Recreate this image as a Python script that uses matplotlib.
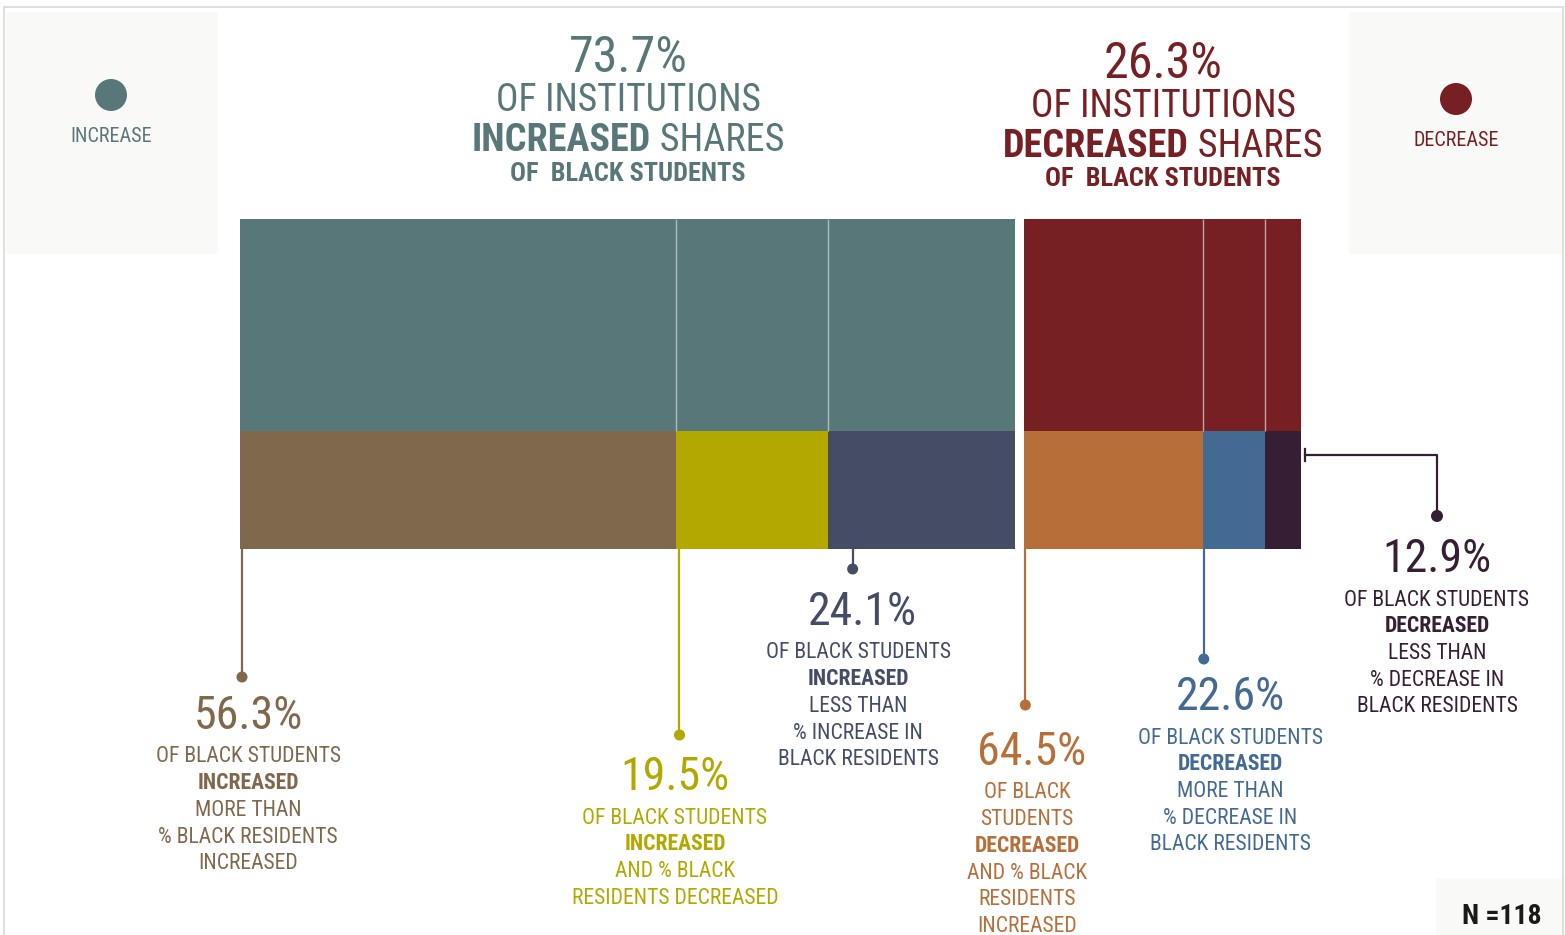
import matplotlib
matplotlib.use("Agg")
import matplotlib.pyplot as plt
from matplotlib import font_manager
from matplotlib.patches import Rectangle, Circle

# ---- data -------------------------------------------------------------
group_names = ["INCREASE", "DECREASE"]
group_shares = [73.7, 26.3]          # % of institutions
group_colors = ["#587779", "#772024"]

inc_shares = [56.3, 19.5, 24.1]      # % of black students within increase group
inc_colors = ["#80684c", "#b2a800", "#444c66"]
dec_shares = [64.5, 22.6, 12.9]      # % of black students within decrease group
dec_colors = ["#b76f3a", "#436a93", "#361e35"]

n_total = 118

# ---- fonts ------------------------------------------------------------
available = {f.name for f in font_manager.fontManager.ttflist}
FONT = next((f for f in ["Roboto Condensed", "Liberation Sans Narrow",
                         "Arial Narrow", "Liberation Sans"] if f in available),
            "DejaVu Sans")
plt.rcParams["font.family"] = [FONT, "DejaVu Sans"]

W, H = 1565, 935
fig = plt.figure(figsize=(W / 100, H / 100), dpi=100)
fig.patch.set_facecolor("white")

# overlay in pixel units (y downwards)
ov = fig.add_axes([0, 0, 1, 1])
ov.set_xlim(0, W)
ov.set_ylim(H, 0)
ov.axis("off")

PANEL = "#f9f9f7"
ov.add_patch(Rectangle((4, 7), W - 6, H - 6, fill=False, ec="#d9d9d6", lw=1.2))
ov.add_patch(Rectangle((6, 12), 212, 242, color=PANEL, lw=0))
ov.add_patch(Rectangle((1349, 12), 213, 242, color=PANEL, lw=0))
ov.add_patch(Rectangle((1436, 878), 126, 57, color=PANEL, lw=0))

# ---- bars ---------------------------------------------------------------
gap = 0.86
bx0, bx1, by_top, by_bot = 240, 1301, 219, 549
axb = fig.add_axes([bx0 / W, (H - by_bot) / H, (bx1 - bx0) / W, (by_bot - by_top) / H])
axb.set_xlim(0, 100 + gap)
axb.set_ylim(0, 330)
axb.axis("off")
axb.set_zorder(2)

BOT_H, TOP_H = 118, 212
starts = [0, group_shares[0] + gap]
seg_edges = []  # (left, width) for each lower segment
for gi, (g, gc, sub, cols) in enumerate(zip(group_shares, group_colors,
                                            [inc_shares, dec_shares],
                                            [inc_colors, dec_colors])):
    s0 = starts[gi]
    axb.barh(BOT_H + TOP_H / 2, g, height=TOP_H, left=s0, color=gc, lw=0)
    left = s0
    for k, (v, c) in enumerate(zip(sub, cols)):
        w = g * v / 100
        axb.barh(BOT_H / 2, w, height=BOT_H, left=left, color=c, lw=0)
        seg_edges.append((left, w))
        if k > 0:
            sep = "#a9bdbd" if gi == 0 else "#c7a3a3"
            axb.vlines(left, BOT_H, BOT_H + TOP_H, color=sep, lw=1.0)
        left += w


def to_px(xd):
    """bar-data x -> overlay pixel x"""
    disp = axb.transData.transform((xd, 0))
    return ov.transData.inverted().transform(disp)[0]


# ---- rich text helpers -----------------------------------------------
fig.canvas.draw()
renderer = fig.canvas.get_renderer()


def rich_line(cx, y, parts, size, color):
    texts = []
    for s, wgt in parts:
        t = ov.text(0, y, s, fontsize=size, fontweight=wgt, color=color,
                    ha="left", va="baseline")
        texts.append(t)
    widths = [t.get_window_extent(renderer).width for t in texts]
    x = cx - sum(widths) / 2
    for t, w in zip(texts, widths):
        t.set_x(x)
        x += w


def label_block(cx, num, num_base, lines, color, cx_num=None):
    ov.text(cx if cx_num is None else cx_num, num_base, f"{num}%", fontsize=33,
            color=color, ha="center", va="baseline")
    base = num_base + 33.5
    for s, bold in lines:
        ov.text(cx, base, s, fontsize=15.6, color=color, ha="center", va="baseline",
                fontweight="bold" if bold else "normal")
        base += 26.7


# ---- titles ---------------------------------------------------------
tc = group_colors[0]
ov.text(628, 72, f"{group_shares[0]}%", fontsize=36, color=tc, ha="center", va="baseline")
ov.text(628, 111, "OF INSTITUTIONS", fontsize=27, color=tc, ha="center", va="baseline")
rich_line(628, 151, [("INCREASED", "bold"), (" SHARES", "normal")], 27.5, tc)
ov.text(628, 181, "OF  BLACK STUDENTS", fontsize=19, color=tc, ha="center",
        va="baseline", fontweight="bold")

rc = group_colors[1]
ov.text(1163, 78, f"{group_shares[1]}%", fontsize=36, color=rc, ha="center", va="baseline")
ov.text(1163, 117, "OF INSTITUTIONS", fontsize=27, color=rc, ha="center", va="baseline")
rich_line(1163, 157, [("DECREASED", "bold"), (" SHARES", "normal")], 27.5, rc)
ov.text(1163, 186, "OF  BLACK STUDENTS", fontsize=19, color=rc, ha="center",
        va="baseline", fontweight="bold")

# legend panels
ov.add_patch(Circle((111, 95), 16, color=tc, lw=0))
ov.text(111, 142, group_names[0], fontsize=14.5, color=tc, ha="center", va="baseline")
ov.add_patch(Circle((1456, 99), 16, color=rc, lw=0))
ov.text(1456, 146, group_names[1], fontsize=14.5, color=rc, ha="center", va="baseline")

# ---- leader lines ----------------------------------------------------
# (segment index, pixel offset from segment start, dot y)
leaders = [(0, 2, 677), (1, 3, 735), (2, 25, 569), (3, 1, 705), (4, 1, 659)]
all_cols = inc_colors + dec_colors
for idx, off, ydot in leaders:
    x = to_px(seg_edges[idx][0]) + off
    ov.plot([x, x], [by_bot, ydot], color=all_cols[idx], lw=1.6, zorder=3)
    ov.add_patch(Circle((x, ydot), 5.5, color=all_cols[idx], lw=0, zorder=3))

# last (thin) segment: elbow from right edge
xr = to_px(seg_edges[5][0] + seg_edges[5][1]) + 4
dc = dec_colors[2]
ov.plot([xr, 1437, 1437], [455, 455, 516], color=dc, lw=1.6, zorder=3)
ov.plot([xr, xr], [449, 461], color=dc, lw=1.6, zorder=3)
ov.add_patch(Circle((1437, 516), 6, color=dc, lw=0, zorder=3))

# ---- labels -----------------------------------------------------------
label_block(248, inc_shares[0], 729,
            [("OF BLACK STUDENTS", False), ("INCREASED", True), ("MORE THAN", False),
             ("% BLACK RESIDENTS", False), ("INCREASED", False)], inc_colors[0])
label_block(675, inc_shares[1], 790,
            [("OF BLACK STUDENTS", False), ("INCREASED", True), ("AND % BLACK", False),
             ("RESIDENTS DECREASED", False)], inc_colors[1])
label_block(858, inc_shares[2], 625,
            [("OF BLACK STUDENTS", False), ("INCREASED", True), ("LESS THAN", False),
             ("% INCREASE IN", False), ("BLACK RESIDENTS", False)], inc_colors[2], cx_num=862)
label_block(1027, dec_shares[0], 765,
            [("OF BLACK", False), ("STUDENTS", False), ("DECREASED", True),
             ("AND % BLACK", False), ("RESIDENTS", False), ("INCREASED", False)],
            dec_colors[0], cx_num=1032)
label_block(1230, dec_shares[1], 710,
            [("OF BLACK STUDENTS", False), ("DECREASED", True), ("MORE THAN", False),
             ("% DECREASE IN", False), ("BLACK RESIDENTS", False)], dec_colors[1])
label_block(1437, dec_shares[2], 572,
            [("OF BLACK STUDENTS", False), ("DECREASED", True), ("LESS THAN", False),
             ("% DECREASE IN", False), ("BLACK RESIDENTS", False)], dec_colors[2])

ov.text(1502, 924, f"N ={n_total}", fontsize=20, fontweight="bold", color="#1a1a1a",
        ha="center", va="baseline")

fig.savefig("out.png", dpi=100, facecolor="white")
